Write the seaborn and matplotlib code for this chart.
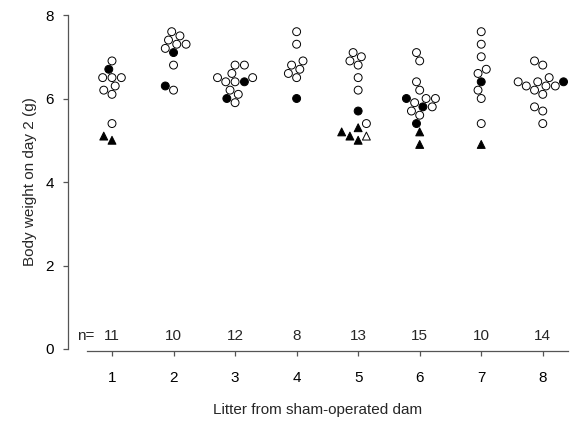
import numpy as np
import pandas as pd
import matplotlib
matplotlib.use("Agg")
import matplotlib.pyplot as plt
import seaborn as sns
from matplotlib.markers import MarkerStyle

# ---- data ----
litters = [1, 2, 3, 4, 5, 6, 7, 8]
n_counts = [11, 10, 12, 8, 13, 15, 10, 14]

# filled circles
filled_litter = [1, 2, 2, 3, 3, 4, 5, 6, 6, 6, 7, 8]
filled_weight = [6.7, 7.1, 6.3, 6.4, 6.0, 6.0, 5.7, 6.0, 5.8, 5.4, 6.4, 6.4]
# open circles
open_litter = ([1] * 8 + [2] * 8 + [3] * 10 + [4] * 7 + [5] * 7 +
               [6] * 10 + [7] * 8 + [8] * 13)
open_weight = [6.9, 6.5, 6.5, 6.5, 6.3, 6.2, 6.1, 5.4,
               7.6, 7.5, 7.4, 7.3, 7.3, 7.2, 6.8, 6.2,
               6.8, 6.8, 6.6, 6.5, 6.5, 6.4, 6.4, 6.2, 6.1, 5.9,
               7.6, 7.3, 6.9, 6.8, 6.7, 6.6, 6.5,
               7.1, 7.0, 6.9, 6.8, 6.5, 6.2, 5.4,
               7.1, 6.9, 6.4, 6.2, 6.0, 6.0, 5.9, 5.8, 5.7, 5.6,
               7.6, 7.3, 7.0, 6.7, 6.6, 6.2, 6.0, 5.4,
               6.9, 6.8, 6.5, 6.4, 6.4, 6.3, 6.3, 6.3, 6.2, 6.1, 5.8, 5.7, 5.4]
# filled triangles
tri_litter = [1, 1, 5, 5, 5, 5, 6, 6, 7]
tri_weight = [5.1, 5.0, 5.3, 5.2, 5.1, 5.0, 5.2, 4.9, 4.9]
# open triangles
otri_litter = [5]
otri_weight = [5.1]

df = pd.concat([
    pd.DataFrame({"litter": filled_litter, "weight": filled_weight, "kind": "filled"}),
    pd.DataFrame({"litter": open_litter, "weight": open_weight, "kind": "open"}),
    pd.DataFrame({"litter": tri_litter, "weight": tri_weight, "kind": "tri"}),
    pd.DataFrame({"litter": otri_litter, "weight": otri_weight, "kind": "otri"}),
], ignore_index=True)

sns.set_style("ticks")
plt.rcParams["font.family"] = ["Liberation Sans", "DejaVu Sans"]

fig = plt.figure(figsize=(5.74, 4.22), dpi=100)
W, H = 574, 422
ax = fig.add_axes([68 / W, (H - 349) / H, 500 / W, 334 / H])

palette = {"open": "white", "filled": "black", "tri": "black", "otri": "white"}
sns.swarmplot(data=df, x="litter", y="weight", hue="kind", palette=palette,
              native_scale=True, orient="x", size=5.7, edgecolor="black",
              linewidth=0.7, legend=False, ax=ax)

circ = MarkerStyle("o")
circ_path = circ.get_path().transformed(circ.get_transform())
tri = MarkerStyle("^")
tri_path = tri.get_path().transformed(tri.get_transform())

for coll in ax.collections:
    offs = coll.get_offsets()
    if len(offs) == 0:
        continue
    lit = int(round(offs[0, 0]))
    kinds = df.loc[df["litter"] == lit, "kind"].tolist()
    if len(kinds) != len(offs):
        continue
    coll.set_paths([tri_path if k in ("tri", "otri") else circ_path for k in kinds])

ax.set_xlim(0.285, 8.41)
ax.set_ylim(0, 8)
ax.set_xticks(litters)
ax.set_xticklabels([str(v) for v in litters])
ax.set_yticks([0, 2, 4, 6, 8])
ax.set_yticklabels(["0", "2", "4", "6", "8"])

for s in ("top", "right"):
    ax.spines[s].set_visible(False)
ax.spines["bottom"].set_position(("outward", 1.5))
ax.spines["bottom"].set_bounds(0.594, 8.41)
ax.spines["left"].set_bounds(0, 8)
for s in ("bottom", "left"):
    ax.spines[s].set_color("#555555")
    ax.spines[s].set_linewidth(0.9)

ax.tick_params(axis="both", direction="out", length=3.5, width=0.9,
               color="#555555", labelsize=11, labelcolor="black")
ax.tick_params(axis="x", pad=11)
ax.tick_params(axis="y", pad=6.5)

ax.set_xlabel("Litter from sham-operated dam", fontsize=11, labelpad=12.5)
ax.set_ylabel("Body weight on day 2 (g)", fontsize=11, labelpad=6.5)

ax.text(0.574, 0.30, "n=", ha="center", va="center", fontsize=11)
for lit, n in zip(litters, n_counts):
    ax.text(lit, 0.30, str(n), ha="center", va="center", fontsize=11)

fig.savefig("out.png", dpi=100)
